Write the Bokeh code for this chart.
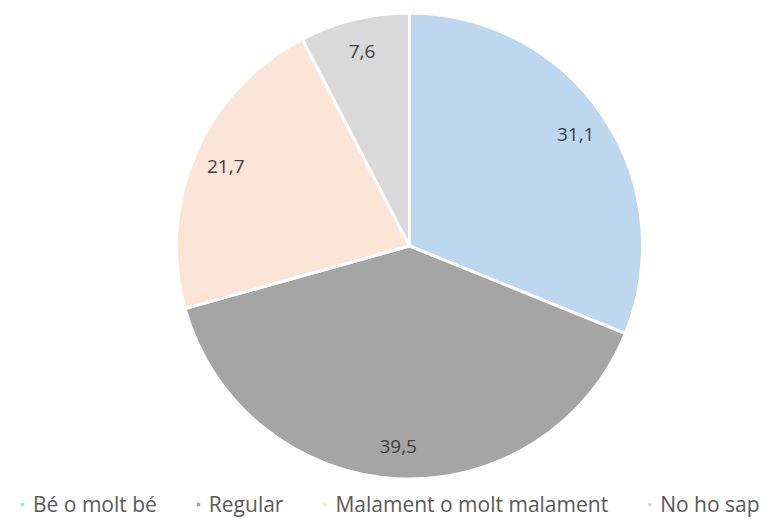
import math
from bokeh.plotting import figure
from bokeh.models import Legend, LegendItem, ColumnDataSource
from bokeh.core.properties import value
from bokeh.embed import file_html
from bokeh.resources import INLINE

categories = ["Bé o molt bé", "Regular", "Malament o molt malament", "No ho sap"]
values = [31.1, 39.5, 21.7, 7.6]
labels = ["31,1", "39,5", "21,7", "7,6"]
colors = ["#BDD7EE", "#A5A5A5", "#FBE5D6", "#D9D9D9"]

W, H = 766, 517
CX, CY, R = 409, H - 245.5, 233
LABEL_R = 0.86 * R
FONT = "Open Sans"

total = sum(values)
starts, ends, lx, ly = [], [], [], []
a = math.pi / 2
for v in values:
    a1 = a - v / total * 2 * math.pi
    starts.append(a1)
    ends.append(a)
    m = (a + a1) / 2
    lx.append(CX + LABEL_R * math.cos(m))
    ly.append(CY + LABEL_R * math.sin(m))
    a = a1

src = ColumnDataSource(dict(cat=categories, val=values, start=starts, end=ends,
                            color=colors, lx=lx, ly=ly, lab=labels))

p = figure(width=W, height=H, x_range=(0, W), y_range=(0, H),
           x_axis_type=None, y_axis_type=None, toolbar_location=None,
           output_backend="svg", min_border=0)
p.outline_line_color = None
p.grid.visible = False
p.background_fill_color = "white"
p.border_fill_color = "white"

r = p.wedge(x=CX, y=CY, radius=R, start_angle="start", end_angle="end",
            fill_color="color", line_color="white", line_width=3, source=src)

p.text(x="lx", y="ly", text="lab", source=src, text_align="center",
       text_baseline="middle", text_font=value(FONT), text_font_size="19px",
       text_color="#404040")

items = [LegendItem(label=c, renderers=[r], index=i) for i, c in enumerate(categories)]
legend = Legend(items=items, orientation="horizontal", location=(18, -1),
                glyph_width=8, glyph_height=8, label_standoff=7, spacing=37,
                padding=0, margin=0, border_line_color=None,
                background_fill_alpha=0, label_text_font=FONT,
                label_text_font_size="21px", label_text_color="#595959",
                label_height=21)
p.add_layout(legend, "center")

open("out.html", "w").write(file_html(p, INLINE))
